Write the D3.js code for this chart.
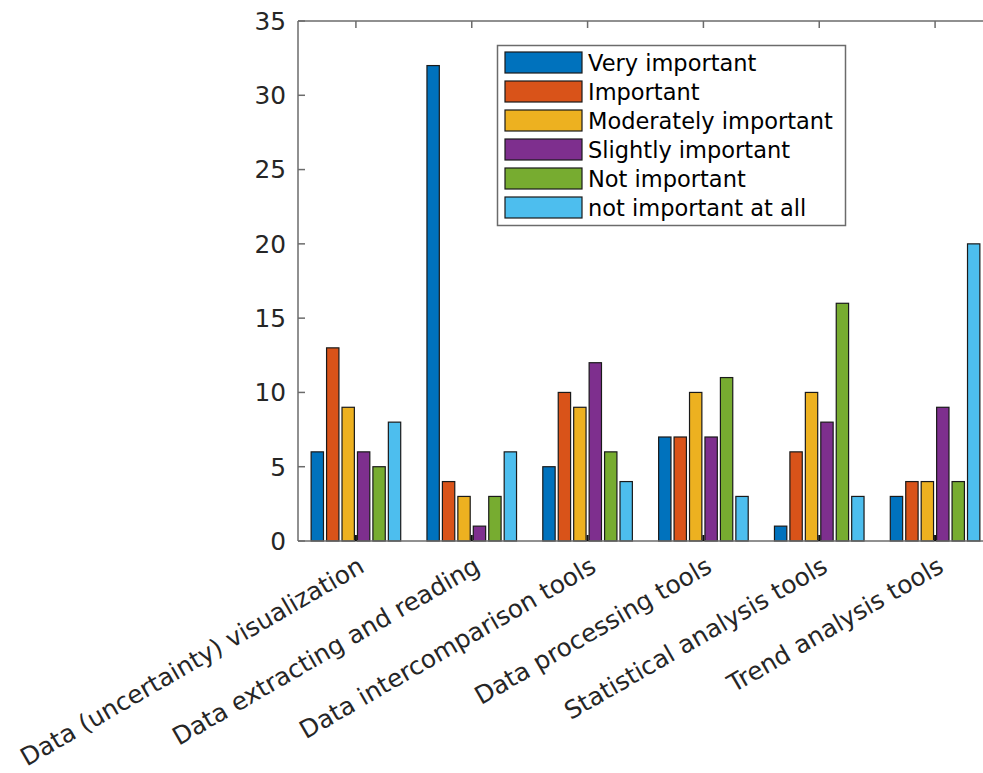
<!DOCTYPE html>
<html><head><meta charset="utf-8">
<script src="https://cdn.jsdelivr.net/npm/d3@7"></script>
<style>body{margin:0;background:#fff}svg{display:block}</style>
</head><body>
<script>
const categories = ["Data (uncertainty) visualization","Data extracting and reading","Data intercomparison tools","Data processing tools","Statistical analysis tools","Trend analysis tools"];
const seriesNames = ["Very important","Important","Moderately important","Slightly important","Not important","not important at all"];
const veryImportant = [6,32,5,7,1,3];
const important = [13,4,10,7,6,4];
const moderatelyImportant = [9,3,9,10,10,4];
const slightlyImportant = [6,1,12,7,8,9];
const notImportant = [5,3,6,11,16,4];
const notImportantAtAll = [8,6,4,3,3,20];
const yTicks = [0,5,10,15,20,25,30,35];
const colors = ["#0072BD","#D95319","#EDB120","#7E2F8E","#77AC30","#4DBEEE"];
const series = [veryImportant, important, moderatelyImportant, slightlyImportant, notImportant, notImportantAtAll];

(function(){
const W = 983, H = 773;
const pL = 298, pR = 993, pT = 21, pB = 541;
const font = "DejaVu Sans, sans-serif";
const fs = 24.8;
const lfs = 22.5;
const axisCol = "#262626";

const svg = d3.select("body").append("svg").attr("width", W).attr("height", H);

const x = d3.scaleLinear().domain([0.5, 6.5]).range([pL, pR]);
const y = d3.scaleLinear().domain([0, 35]).range([pB, pT]);
const groupW = 0.8;
const pitch = groupW / 6;
const barW = pitch * 0.8;

series.forEach((vals, si) => {
  svg.append("g").selectAll("rect").data(vals).join("rect")
    .attr("x", (d, i) => x(i + 1 - groupW / 2 + pitch * si + (pitch - barW) / 2))
    .attr("width", x(1 + barW) - x(1))
    .attr("y", d => y(d))
    .attr("height", d => y(0) - y(d))
    .attr("fill", colors[si])
    .attr("stroke", "#1a1a1a").attr("stroke-width", 1.2);
});

const ax = svg.append("g").attr("stroke", "#6b6b6b").attr("stroke-width", 1.5);
ax.append("line").attr("x1", pL).attr("x2", pR).attr("y1", pB).attr("y2", pB);
ax.append("line").attr("x1", pL).attr("x2", pR).attr("y1", pT).attr("y2", pT);
ax.append("line").attr("x1", pL).attr("x2", pL).attr("y1", pT).attr("y2", pB);
ax.append("line").attr("x1", pR).attr("x2", pR).attr("y1", pT).attr("y2", pB);

yTicks.forEach(t => {
  ax.append("line").attr("x1", pL).attr("x2", pL + 7).attr("y1", y(t)).attr("y2", y(t));
  svg.append("text").attr("x", pL - 12).attr("y", y(t)).attr("dy", "0.36em")
    .attr("text-anchor", "end").attr("font-family", font).attr("font-size", fs)
    .attr("fill", axisCol).text(t);
});

categories.forEach((c, i) => {
  const cx = x(i + 1);
  ax.append("line").attr("x1", cx).attr("x2", cx).attr("y1", pT).attr("y2", pT + 7);
  svg.append("line").attr("x1", cx).attr("x2", cx).attr("y1", pB).attr("y2", pB - 6)
    .attr("stroke", "#111").attr("stroke-width", 2);
  svg.append("text")
    .attr("transform", `translate(${cx + 10},${pB + 30}) rotate(-30)`)
    .attr("text-anchor", "end").attr("font-family", font).attr("font-size", fs)
    .attr("fill", axisCol).text(c);
});

const lg = svg.append("g");
lg.append("rect").attr("x", 497.5).attr("y", 45.5).attr("width", 348).attr("height", 180)
  .attr("fill", "#fff").attr("stroke", "#6b6b6b").attr("stroke-width", 1.5);
seriesNames.forEach((n, i) => {
  const ry = 52 + i * 29;
  lg.append("rect").attr("x", 505).attr("y", ry).attr("width", 77).attr("height", 21)
    .attr("fill", colors[i]).attr("stroke", "#1a1a1a").attr("stroke-width", 1.2);
  lg.append("text").attr("x", 588).attr("y", ry + 10.5).attr("dy", "0.36em")
    .attr("font-family", font).attr("font-size", lfs).attr("fill", "#000").text(n);
});
})();
</script>
</body></html>
